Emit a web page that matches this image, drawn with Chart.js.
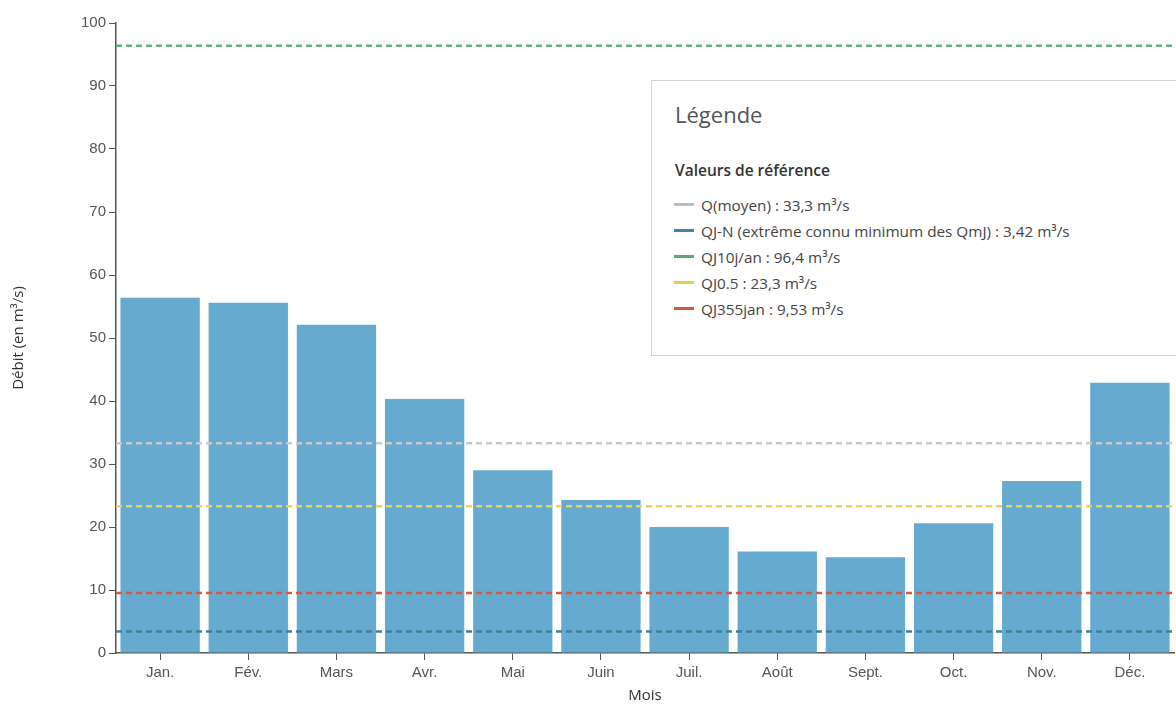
<!DOCTYPE html>
<html lang="fr">
<head>
<meta charset="utf-8">
<script src="https://cdn.jsdelivr.net/npm/chart.js@4"></script>
<style>
    html, body { margin: 0; padding: 0; background: #fff; overflow: hidden; }
    .wrap { position: relative; width: 1176px; height: 704px; }
    .legende {
        position: absolute; left: 651px; top: 80px; width: 540px; height: 276px;
        border: 1px solid #d4d4d4; background: #fff; box-sizing: border-box;
        font-family: "Open Sans", "Noto Sans", sans-serif; color: #444;
    }
    .legende h3 { margin: 0; position: absolute; left: 23px; top: 18px; font-size: 22px; font-weight: 400; color: #555; }
    .legende h4 { margin: 0; position: absolute; left: 23px; top: 78px; font-size: 15.5px; font-weight: 600; color: #333; }
    .legende ul { list-style: none; margin: 0; padding: 0; position: absolute; left: 22px; top: 111px; }
    .legende li { height: 26px; line-height: 26px; font-size: 15.3px; white-space: nowrap; }
    .legende li span { display: inline-block; width: 20px; height: 3px; vertical-align: middle; margin-right: 7px; position: relative; top: -2px; }
</style>
</head>
<body>
<div class="wrap">
    <canvas id="chart" width="1176" height="704"></canvas>
    <div class="legende">
        <h3>Légende</h3>
        <h4>Valeurs de référence</h4>
        <ul id="legend-items"></ul>
    </div>
</div>
<script>
//----------------------------------------------------------------------------------------------------------------------
// Data
//----------------------------------------------------------------------------------------------------------------------

    var months = ['Jan.', 'Fév.', 'Mars', 'Avr.', 'Mai', 'Juin', 'Juil.', 'Août', 'Sept.', 'Oct.', 'Nov.', 'Déc.'];
    var debits = [56.4, 55.6, 52.1, 40.3, 29.0, 24.3, 20.0, 16.1, 15.2, 20.6, 27.3, 42.9];

    var refLabels = [
        'Q(moyen) : 33,3 m³/s',
        'QJ-N (extrême connu minimum des QmJ) : 3,42 m³/s',
        'QJ10j/an : 96,4 m³/s',
        'QJ0.5 : 23,3 m³/s',
        'QJ355jan : 9,53 m³/s'
    ];
    var refValues = [33.3, 3.42, 96.4, 23.3, 9.53];
    var refColors = ['#c9c9c9', '#3b8197', '#5fb27a', '#e6d55a', '#d9573d'];
    var refLegendColors = ['#bdbdbd', '#3f87a8', '#5aa872', '#e5cf4f', '#cf5a3c'];

    var yTicks = [0, 10, 20, 30, 40, 50, 60, 70, 80, 90, 100];

//----------------------------------------------------------------------------------------------------------------------
// Legend box
//----------------------------------------------------------------------------------------------------------------------

    var list = document.getElementById('legend-items');
    refLabels.forEach(function(label, i) {
        var li = document.createElement('li');
        li.innerHTML = '<span style="background:' + refLegendColors[i] + '"></span>' + label;
        list.appendChild(li);
    });

//----------------------------------------------------------------------------------------------------------------------
// Chart
//----------------------------------------------------------------------------------------------------------------------

    var datasets = [{
        type: 'bar',
        data: debits,
        backgroundColor: '#66aacf',
        borderWidth: 0,
        grouped: false,
        barPercentage: 0.9,
        categoryPercentage: 1,
        order: 10
    }];

    refValues.forEach(function(v, i) {
        datasets.push({
            type: 'line',
            xAxisID: 'xl',
            data: [{x: 0, y: v}, {x: 1, y: v}],
            borderColor: refColors[i],
            borderWidth: 2.5,
            borderDash: [6, 4],
            pointRadius: 0,
            fill: false,
            order: 1
        });
    });

    var axisFont = {family: '"Liberation Sans", Arial, sans-serif', size: 15};

    new Chart(document.getElementById('chart'), {
        type: 'bar',
        data: {
            labels: months,
            datasets: datasets
        },
        options: {
            responsive: false,
            animation: false,
            layout: {
                padding: {left: 10, right: 2, top: 23, bottom: -1}
            },
            plugins: {
                legend: {display: false},
                tooltip: {enabled: false}
            },
            scales: {
                x: {
                    offset: true,
                    grid: {
                        offset: false,
                        drawOnChartArea: false,
                        tickLength: 7,
                        color: '#555'
                    },
                    border: {color: '#555', width: 1.5},
                    ticks: {color: '#555', font: axisFont, padding: 4, maxRotation: 0},
                    title: {
                        display: true,
                        text: 'Mois',
                        color: '#333',
                        font: {family: '"Open Sans", sans-serif', size: 15},
                        padding: {top: 1, bottom: 0}
                    }
                },
                xl: {
                    type: 'linear',
                    min: 0,
                    max: 1,
                    offset: false,
                    display: false
                },
                y: {
                    min: 0,
                    max: 100,
                    afterBuildTicks: function(axis) {
                        axis.ticks = yTicks.map(function(v) { return {value: v}; });
                    },
                    grid: {
                        drawOnChartArea: false,
                        tickLength: 7,
                        color: '#555'
                    },
                    border: {color: '#555', width: 1.5},
                    ticks: {color: '#555', font: axisFont, padding: 3},
                    title: {
                        display: true,
                        text: 'Débit (en m³/s)',
                        color: '#333',
                        font: {family: '"Open Sans", sans-serif', size: 15},
                        padding: {top: 0, bottom: 50}
                    }
                }
            }
        }
    });
</script>
</body>
</html>
